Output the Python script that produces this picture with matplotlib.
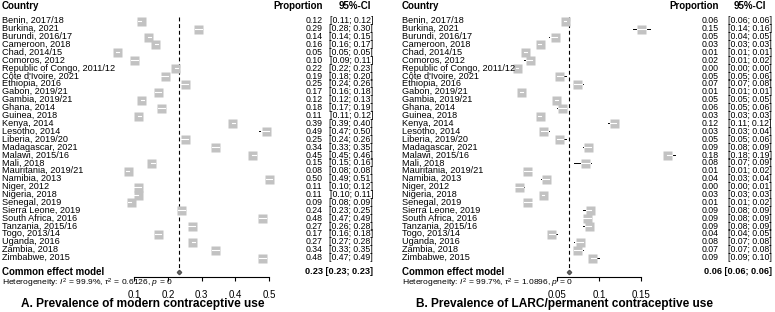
import matplotlib
matplotlib.use("Agg")
import matplotlib.pyplot as plt
from matplotlib import font_manager
from matplotlib.transforms import blended_transform_factory

# ---------------- data ----------------
countries = ["Benin, 2017/18", "Burkina, 2021", "Burundi, 2016/17", "Cameroon, 2018",
             "Chad, 2014/15", "Comoros, 2012", "Republic of Congo, 2011/12",
             "Côte d'Ivoire, 2021", "Ethiopia, 2016", "Gabon, 2019/21", "Gambia, 2019/21",
             "Ghana, 2014", "Guinea, 2018", "Kenya, 2014", "Lesotho, 2014",
             "Liberia, 2019/20", "Madagascar, 2021", "Malawi, 2015/16", "Mali, 2018",
             "Mauritania, 2019/21", "Namibia, 2013", "Niger, 2012", "Nigeria, 2018",
             "Senegal, 2019", "Sierra Leone, 2019", "South Africa, 2016",
             "Tanzania, 2015/16", "Togo, 2013/14", "Uganda, 2016", "Zambia, 2018",
             "Zimbabwe, 2015"]

# Panel A: modern contraceptive use
a_est = [0.12, 0.29, 0.14, 0.16, 0.05, 0.10, 0.22, 0.19, 0.25, 0.17, 0.12, 0.18, 0.11,
         0.39, 0.49, 0.25, 0.34, 0.45, 0.15, 0.08, 0.50, 0.11, 0.11, 0.09, 0.24, 0.48,
         0.27, 0.17, 0.27, 0.34, 0.48]
a_lo = [0.11, 0.28, 0.14, 0.16, 0.05, 0.09, 0.22, 0.18, 0.24, 0.16, 0.12, 0.17, 0.11,
        0.39, 0.47, 0.24, 0.33, 0.45, 0.15, 0.08, 0.49, 0.10, 0.10, 0.08, 0.23, 0.47,
        0.26, 0.16, 0.27, 0.33, 0.47]
a_hi = [0.12, 0.30, 0.15, 0.17, 0.05, 0.11, 0.23, 0.20, 0.26, 0.18, 0.13, 0.19, 0.12,
        0.40, 0.50, 0.26, 0.35, 0.46, 0.16, 0.08, 0.51, 0.12, 0.11, 0.09, 0.25, 0.49,
        0.28, 0.18, 0.28, 0.35, 0.49]
a_pooled = [0.233, 0.23, 0.23]
a_het = r"Heterogeneity: $\mathit{I}^{2}$ = 99.9%, $\tau^{2}$ = 0.6126, $\mathit{p}$ = 0"
a_ticks = [0.1, 0.2, 0.3, 0.4, 0.5]
a_title = "A. Prevalence of modern contraceptive use"

# Panel B: LARC / permanent contraceptive use
b_est = [0.059, 0.150, 0.047, 0.029, 0.012, 0.018, 0.002, 0.052, 0.074, 0.007, 0.049,
         0.056, 0.029, 0.118, 0.033, 0.052, 0.087, 0.181, 0.083, 0.014, 0.037, 0.004,
         0.033, 0.014, 0.089, 0.085, 0.088, 0.042, 0.077, 0.074, 0.091]
b_lo = [0.06, 0.14, 0.04, 0.03, 0.01, 0.01, 0.00, 0.05, 0.07, 0.01, 0.05, 0.05, 0.03,
        0.11, 0.03, 0.05, 0.08, 0.18, 0.07, 0.01, 0.03, 0.00, 0.03, 0.01, 0.08, 0.08,
        0.08, 0.04, 0.07, 0.07, 0.09]
b_hi = [0.06, 0.16, 0.05, 0.03, 0.01, 0.02, 0.00, 0.06, 0.08, 0.01, 0.05, 0.06, 0.03,
        0.12, 0.04, 0.06, 0.09, 0.19, 0.09, 0.02, 0.04, 0.01, 0.03, 0.02, 0.09, 0.09,
        0.09, 0.05, 0.08, 0.08, 0.10]
b_pooled = [0.064, 0.06, 0.06]
b_het = r"Heterogeneity: $\mathit{I}^{2}$ = 99.7%, $\tau^{2}$ = 1.0896, $\mathit{p}$ = 0"
b_ticks = [0.05, 0.1, 0.15]
b_title = "B. Prevalence of LARC/permanent contraceptive use"

# ---------------- fonts ----------------
names = {f.name for f in font_manager.fontManager.ttflist}
if "Liberation Sans Narrow" in names:
    FONT = "Liberation Sans Narrow"
    FS = 7.6
    FSN = 7.2
else:
    FONT = "Liberation Sans"
    FS = 6.6
    FSN = 6.3
plt.rcParams["font.family"] = [FONT, "DejaVu Sans"]
plt.rcParams["mathtext.fontset"] = "custom"
plt.rcParams["mathtext.rm"] = FONT
plt.rcParams["mathtext.it"] = FONT + ":italic"
plt.rcParams["mathtext.bf"] = FONT + ":bold"

W, H = 775, 312
fig = plt.figure(figsize=(W / 100, H / 100), dpi=100)

ROW0, ROWH = 20.7, 7.9          # pixel position of first row, row spacing


def prow(py):
    return (py - ROW0) / ROWH


SQ = 9  # square size in px


def panel(x_left, x_right, ref_val, ref_px, scale, est, lo, hi, pooled, het, ticks,
          title, txt_x, prop_r, ci_r, hdr_ci, title_cx):
    ax = fig.add_axes([x_left / W, 0, (x_right - x_left) / W, 1])
    ax.set_xlim(ref_val - (ref_px - x_left) / scale, ref_val + (x_right - ref_px) / scale)
    ax.set_ylim(prow(H), prow(0))
    ax.patch.set_visible(False)
    for s in ["top", "left", "right"]:
        ax.spines[s].set_visible(False)
    ax.yaxis.set_visible(False)
    n = len(est)
    rows = list(range(n))
    half = (SQ / 2) / scale
    # CI lines (black), squares, white part inside square
    for i in rows:
        ax.plot([lo[i], hi[i]], [i, i], color="black", lw=0.7, zorder=2)
    ax.plot(est, rows, ls="none", marker="s", ms=SQ * 0.72, mfc="#c2c2c2",
            mec="none", zorder=3)
    for i in rows:
        l = max(lo[i], est[i] - half)
        h = min(hi[i], est[i] + half)
        if h - l < 0.6 * half:
            l, h = est[i] - 0.3 * half, est[i] + 0.3 * half
        ax.plot([l, h], [i, i], color="white", lw=0.8, zorder=4)
    # pooled
    axis_row = prow(276.7)
    pooled_row = prow(272.0)
    ax.plot([pooled[0], pooled[0]], [prow(16.5), axis_row], color="black", lw=0.8,
            ls=(0, (3.5, 2.5)), zorder=1)
    ax.plot([pooled[0]], [pooled_row], marker="D", ms=2.2, color="#707070",
            mec="#505050", zorder=5)
    # axis
    ax.spines["bottom"].set_position(("data", axis_row))
    ax.spines["bottom"].set_bounds(ticks[0], ticks[-1])
    ax.spines["bottom"].set_linewidth(0.8)
    ax.set_xticks(ticks)
    ax.set_xticklabels([("%g" % t) for t in ticks])
    ax.tick_params(axis="x", direction="out", length=3, width=0.8, pad=6.5,
                   labelsize=FS + 0.4, colors="black")
    # texts
    tr = blended_transform_factory(fig.transFigure, ax.transData)
    ax.text(txt_x / W, prow(5.5), "Country", transform=tr, ha="left", va="center",
            fontsize=FS + 0.4, fontweight="bold")
    ax.text(prop_r / W, prow(5.5), "Proportion", transform=tr, ha="right", va="center",
            fontsize=FS + 0.4, fontweight="bold")
    ax.text(hdr_ci / W, prow(5.5), "95%-CI", transform=tr, ha="center", va="center",
            fontsize=FS + 0.4, fontweight="bold")
    for i in rows:
        ax.text(txt_x / W, i, countries[i], transform=tr, ha="left", va="center",
                fontsize=FS)
        ax.text(prop_r / W, i, "%.2f" % est[i], transform=tr, ha="right",
                va="center", fontsize=FSN)
        ax.text(ci_r / W, i, "[%.2f; %.2f]" % (lo[i], hi[i]), transform=tr,
                ha="right", va="center", fontsize=FSN)
    ax.text(txt_x / W, pooled_row, "Common effect model", transform=tr, ha="left",
            va="center", fontsize=FS + 0.4, fontweight="bold")
    ax.text(ci_r / W, pooled_row, "%.2f [%.2f; %.2f]" % tuple(pooled),
            transform=tr, ha="right", va="center", fontsize=FS,
            fontweight="bold")
    ax.text(txt_x / W, prow(285.0), het, transform=tr, ha="left", va="baseline",
            fontsize=FS - 0.5)
    ax.text(title_cx / W, prow(304.5), title, transform=tr, ha="center",
            va="center", fontsize=FS + 2.0, fontweight="bold")
    return ax


panel(0, 387, 0.1, 134.3, 337.0, a_est, a_lo, a_hi, a_pooled, a_het, a_ticks,
      a_title, 2, 322.5, 373, 355, 143)
panel(387, 775, 0.05, 557.3, 840.0, b_est, b_lo, b_hi, b_pooled, b_het, b_ticks,
      b_title, 402, 719, 772, 750, 564)

fig.savefig("out.png", dpi=100)
